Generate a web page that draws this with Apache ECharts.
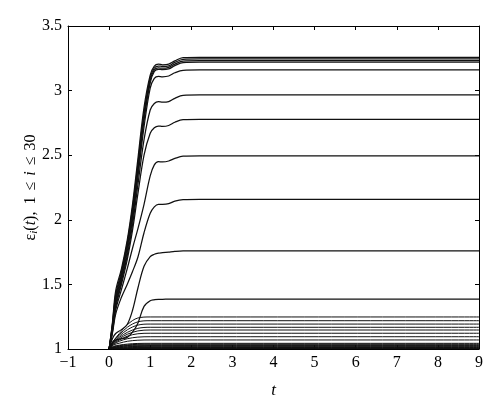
<!DOCTYPE html>
<html>
<head>
<meta charset="utf-8">
<script src="https://cdn.jsdelivr.net/npm/echarts@6/dist/echarts.min.js"></script>
<style>html,body{margin:0;padding:0;background:#fff}#c{width:500px;height:416px}</style>
</head>
<body>
<div id="c"></div>
<script>
// Tick labels
const xTicks = [-1, 0, 1, 2, 3, 4, 5, 6, 7, 8, 9];
const yTicks = [1, 1.5, 2, 2.5, 3, 3.5];

// Upper curves share one time grid
const upT = [0, 0.08, 0.16, 0.3, 0.44, 0.57, 0.7, 0.85, 1.0, 1.1, 1.2, 1.3, 1.45, 1.6, 1.8, 2.2, 9];
const up3258 = [1, 1.2, 1.45, 1.62, 1.84, 2.12, 2.47, 2.87, 3.12, 3.19, 3.205, 3.2, 3.205, 3.23, 3.255, 3.258, 3.258];
const up3245 = [1, 1.19, 1.42, 1.6, 1.82, 2.09, 2.43, 2.83, 3.1, 3.175, 3.19, 3.187, 3.192, 3.218, 3.242, 3.245, 3.245];
const up3232 = [1, 1.18, 1.4, 1.58, 1.8, 2.06, 2.4, 2.8, 3.08, 3.16, 3.175, 3.173, 3.18, 3.205, 3.229, 3.232, 3.232];
const up3220 = [1, 1.17, 1.38, 1.56, 1.78, 2.03, 2.37, 2.77, 3.06, 3.148, 3.165, 3.162, 3.168, 3.193, 3.217, 3.22, 3.22];
const up3160 = [1, 1.16, 1.36, 1.54, 1.75, 2.0, 2.33, 2.72, 3.02, 3.095, 3.11, 3.107, 3.113, 3.138, 3.157, 3.16, 3.16];
const up2966 = [1, 1.15, 1.34, 1.52, 1.72, 1.96, 2.27, 2.62, 2.85, 2.9, 2.914, 2.91, 2.915, 2.94, 2.963, 2.966, 2.966];
const up2778 = [1, 1.14, 1.32, 1.5, 1.69, 1.92, 2.2, 2.5, 2.67, 2.713, 2.726, 2.723, 2.73, 2.755, 2.775, 2.778, 2.778];
const up2494 = [1, 1.13, 1.3, 1.46, 1.62, 1.78, 1.93, 2.12, 2.34, 2.425, 2.45, 2.448, 2.455, 2.475, 2.492, 2.494, 2.494];
const up2159 = [1, 1.12, 1.27, 1.4, 1.5, 1.6, 1.71, 1.9, 2.05, 2.1, 2.12, 2.12, 2.125, 2.145, 2.157, 2.159, 2.159];
const up1760 = [1, 1.08, 1.12, 1.15, 1.19, 1.3, 1.47, 1.64, 1.715, 1.733, 1.742, 1.745, 1.75, 1.755, 1.759, 1.76, 1.76];
const up1386 = [1, 1.05, 1.07, 1.08, 1.09, 1.13, 1.2, 1.33, 1.373, 1.381, 1.385, 1.385, 1.386, 1.386, 1.386, 1.386, 1.386];
const upperCurves = [up3258, up3245, up3232, up3220, up3160, up2966, up2778, up2494, up2159, up1760, up1386];

// Lower curves share another time grid
const lowT = [0, 0.1, 0.25, 0.45, 0.7, 1.0, 9];
const low1248 = [1, 1.06, 1.12, 1.19, 1.24, 1.248, 1.248];
const low1219 = [1, 1.06, 1.11, 1.17, 1.21, 1.219, 1.219];
const low1193 = [1, 1.05, 1.1, 1.15, 1.185, 1.193, 1.193];
const low1168 = [1, 1.05, 1.09, 1.13, 1.16, 1.168, 1.168];
const low1147 = [1, 1.045, 1.08, 1.115, 1.14, 1.147, 1.147];
const low1122 = [1, 1.04, 1.07, 1.1, 1.118, 1.122, 1.122];
const low1095 = [1, 1.035, 1.06, 1.08, 1.092, 1.095, 1.095];
const low1070 = [1, 1.03, 1.045, 1.06, 1.068, 1.07, 1.07];
const low1044 = [1, 1.02, 1.03, 1.038, 1.043, 1.044, 1.044];
const low1037 = [1, 1.016, 1.026, 1.032, 1.036, 1.037, 1.037];
const low1031 = [1, 1.013, 1.021, 1.027, 1.03, 1.031, 1.031];
const low1026 = [1, 1.011, 1.018, 1.023, 1.025, 1.026, 1.026];
const low1021 = [1, 1.009, 1.014, 1.018, 1.02, 1.021, 1.021];
const low1016 = [1, 1.007, 1.011, 1.014, 1.016, 1.016, 1.016];
const low1012 = [1, 1.005, 1.008, 1.01, 1.012, 1.012, 1.012];
const low1008 = [1, 1.003, 1.005, 1.007, 1.008, 1.008, 1.008];
const low1005 = [1, 1.002, 1.003, 1.004, 1.005, 1.005, 1.005];
const low1002 = [1, 1.001, 1.0015, 1.002, 1.0025, 1.0025, 1.0025];
const low1001 = [1, 1.0004, 1.0006, 1.0008, 1.001, 1.001, 1.001];
const lowCurves = [low1248, low1219, low1193, low1168, low1147, low1122, low1095, low1070, low1044, low1037, low1031, low1026, low1021, low1016, low1012, low1008, low1005, low1002, low1001];

const FONT = '"Liberation Serif", "Times New Roman", "DejaVu Serif", serif';
const chart = echarts.init(document.getElementById('c'), null, {renderer: 'canvas'});

const series = [];
function addCurve(ts, vals, w) {
  series.push({
    type: 'line', data: ts.map(function (t, i) { return [t, vals[i]]; }),
    showSymbol: false, smooth: 0.35,
    lineStyle: {color: '#111', width: w}, silent: true, animation: false
  });
}
upperCurves.forEach(function (vals) { addCurve(upT, vals, 1.25); });
lowCurves.forEach(function (vals) { addCurve(lowT, vals, 1.0); });

const axisLine = {show: true, onZero: false, lineStyle: {color: '#000', width: 1}};
const tick = {show: true, inside: true, length: 4, lineStyle: {color: '#000'}};

chart.setOption({
  animation: false,
  backgroundColor: '#fff',
  grid: {left: 68, right: 21, top: 26, bottom: 67, containLabel: false},
  xAxis: [{
    type: 'value', min: -1, max: 9, interval: 1, position: 'bottom',
    axisLine: axisLine, axisTick: tick, splitLine: {show: false},
    axisLabel: {color: '#000', fontFamily: FONT, fontSize: 16, margin: 6,
      formatter: function (v) { return v < 0 ? '\u2212' + Math.abs(v) : String(v); }},
    name: 't', nameLocation: 'middle', nameGap: 33, nameMoveOverlap: false,
    nameTextStyle: {color: '#000', fontFamily: FONT, fontSize: 17, fontStyle: 'italic'}
  }, {
    type: 'value', min: -1, max: 9, interval: 1, position: 'top',
    axisLine: axisLine, axisTick: tick, axisLabel: {show: false}, splitLine: {show: false}
  }],
  yAxis: [{
    type: 'value', min: 1, max: 3.5, interval: 0.5, position: 'left',
    axisLine: axisLine, axisTick: tick, splitLine: {show: false},
    axisLabel: {color: '#000', fontFamily: FONT, fontSize: 16, margin: 6},
    name: '{n|\u03b5}{s|i}{n|(}{it|t}{n|),}{sp|1}{op|\u2264}{it|i}{op|\u2264}{n|30}',
    nameLocation: 'middle', nameGap: 28, nameRotate: 90, nameMoveOverlap: false,
    nameTextStyle: {color: '#000', fontFamily: FONT, fontSize: 16,
      rich: {
        n: {fontFamily: FONT, fontSize: 16, color: '#000'},
        sp: {fontFamily: FONT, fontSize: 16, color: '#000', padding: [0, 0, 0, 7]},
        op: {fontFamily: FONT, fontSize: 16, color: '#000', padding: [0, 6, 0, 6]},
        it: {fontFamily: FONT, fontSize: 16, fontStyle: 'italic', color: '#000'},
        s: {fontFamily: FONT, fontSize: 11, fontStyle: 'italic', color: '#000', verticalAlign: 'bottom', padding: [7, 0, 0, 0]}
      }}
  }, {
    type: 'value', min: 1, max: 3.5, interval: 0.5, position: 'right',
    axisLine: axisLine, axisTick: tick, axisLabel: {show: false}, splitLine: {show: false}
  }],
  series: series
});
</script>
</body>
</html>
